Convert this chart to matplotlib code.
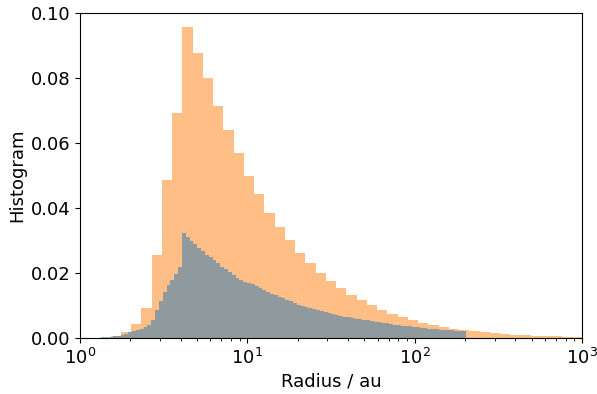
import numpy as np
import matplotlib
matplotlib.use("Agg")
import matplotlib.pyplot as plt

# Coarse histogram: 49 log-spaced bins from 1 to 1000 au (fraction per bin)
coarse_edges = np.logspace(0, 3, 50)
coarse_frac = [
    0.0, 0.00005, 0.0001, 0.0005, 0.0018, 0.0042, 0.0091, 0.0256, 0.0485, 0.0691,
    0.0957, 0.0877, 0.0799, 0.0713, 0.0639, 0.0568, 0.0499, 0.0443, 0.0384, 0.0341,
    0.0301, 0.0261, 0.0230, 0.0199, 0.0175, 0.0153, 0.0131, 0.0116, 0.0101, 0.0085,
    0.0073, 0.0064, 0.0055, 0.0046, 0.0040, 0.0033, 0.0028, 0.0024, 0.0021, 0.0018,
    0.0015, 0.0013, 0.0010, 0.0009, 0.0006, 0.0005, 0.0005, 0.0004, 0.0002,
]

# Fine histogram: 100 log-spaced bins between the sample's min and max radius
fine_rmin, fine_rmax = 1.03, 201.8
fine_edges = np.logspace(np.log10(fine_rmin), np.log10(fine_rmax), 101)
fine_frac = [
    0.0001, 0.0001, 0.0001, 0.0001, 0.0001, 0.0002, 0.0002, 0.0003, 0.0005, 0.0007,
    0.0010, 0.0014, 0.0018, 0.0022, 0.0026, 0.0029, 0.0034, 0.0040, 0.0056, 0.0085,
    0.0113, 0.0141, 0.0162, 0.0179, 0.0196, 0.0218, 0.0322, 0.0310, 0.0300, 0.0288,
    0.0277, 0.0267, 0.0257, 0.0249, 0.0239, 0.0230, 0.0220, 0.0212, 0.0203, 0.0195,
    0.0186, 0.0178, 0.0173, 0.0169, 0.0165, 0.0159, 0.0153, 0.0147, 0.0141, 0.0137,
    0.0131, 0.0126, 0.0122, 0.0117, 0.0113, 0.0109, 0.0102, 0.0098, 0.0095, 0.0091,
    0.0088, 0.0085, 0.0082, 0.0079, 0.0076, 0.0073, 0.0070, 0.0067, 0.0065, 0.0064,
    0.0062, 0.0060, 0.0058, 0.0056, 0.0054, 0.0052, 0.0049, 0.0048, 0.0046, 0.0045,
    0.0043, 0.0041, 0.0039, 0.0038, 0.0037, 0.0036, 0.0034, 0.0033, 0.0031, 0.0030,
    0.0029, 0.0028, 0.0027, 0.0026, 0.0025, 0.0024, 0.0024, 0.0023, 0.0022, 0.0022,
]

plt.rcParams["font.family"] = ["DejaVu Sans"]
plt.rcParams["font.size"] = 13

fig = plt.figure(figsize=(5.97, 3.94), dpi=100)
ax = fig.add_axes([0.134, 0.142, 0.841, 0.825])

coarse_mid = np.sqrt(coarse_edges[:-1] * coarse_edges[1:])
fine_mid = np.sqrt(fine_edges[:-1] * fine_edges[1:])

ax.hist(coarse_mid, bins=coarse_edges, weights=coarse_frac, color="C1", alpha=0.5)
ax.hist(fine_mid, bins=fine_edges, weights=fine_frac, color="C0", alpha=0.5)

ax.set_xscale("log")
ax.set_xlim(1, 1000)
ax.set_ylim(0, 0.10)
ax.set_yticks(np.arange(0, 0.101, 0.02))
ax.yaxis.set_major_formatter(matplotlib.ticker.FormatStrFormatter("%.2f"))
ax.set_xlabel("Radius / au", labelpad=3)
ax.set_ylabel("Histogram", labelpad=3)

fig.savefig("out.png", dpi=100)
